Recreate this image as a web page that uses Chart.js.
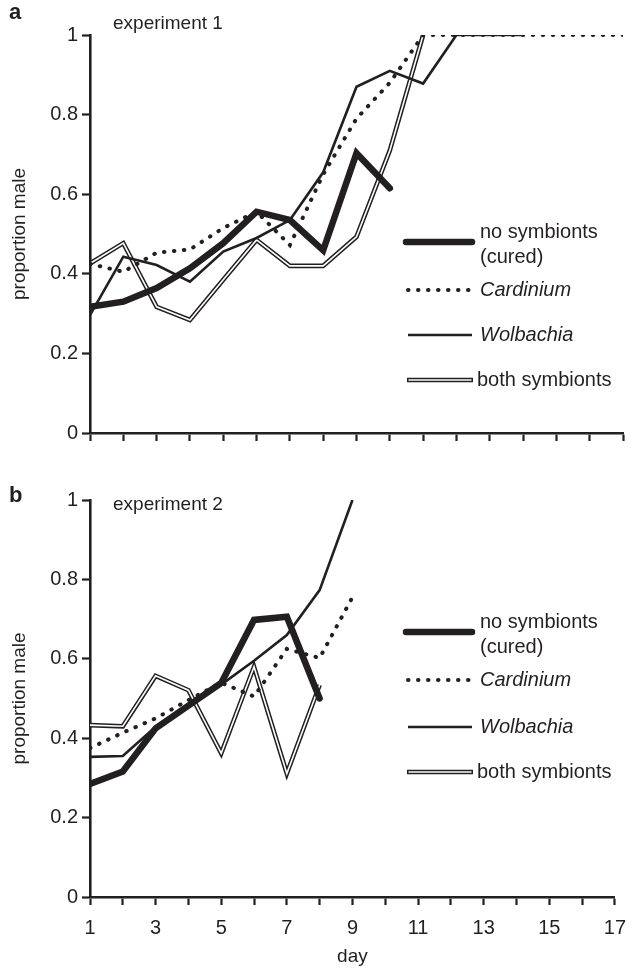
<!DOCTYPE html>
<html><head><meta charset="utf-8">
<script src="https://cdn.jsdelivr.net/npm/chart.js@4.4.0/dist/chart.umd.min.js"></script>
<style>
html,body{margin:0;padding:0;background:#fff;}
#wrap{position:relative;width:637px;height:969px;overflow:hidden;}
.cv{position:absolute;left:0;width:637px;}
</style></head><body>
<div id="wrap">
<div class="cv" style="top:0;height:470px"><canvas id="ca"></canvas></div>
<div class="cv" style="top:470px;height:499px"><canvas id="cb"></canvas></div>
</div>
<script>
// ---- data ----
const days = [1,2,3,4,5,6,7,8,9,10,11,12,13,14,15,16,17];
const xTickLabels = ['1','3','5','7','9','11','13','15','17'];
const yTickValues = [0,0.2,0.4,0.6,0.8,1];
const seriesNames = ['no symbionts', 'Cardinium', 'Wolbachia', 'both symbionts'];

// experiment 1
const exp1Cured     = [0.317,0.330,0.364,0.414,0.477,0.556,0.535,0.459,0.703,0.615];
const exp1Cardinium = [0.425,0.405,0.453,0.461,0.515,0.556,0.472,0.650,0.790,0.880,1,1,1,1,1,1,1];
const exp1Wolbachia = [0.296,0.443,0.422,0.380,0.456,0.490,0.535,0.655,0.870,0.910,0.878,1,1,1];
const exp1Both      = [0.426,0.477,0.317,0.284,0.385,0.485,0.420,0.420,0.493,0.710,1.0];

// experiment 2
const exp2Cured     = [0.285,0.316,0.425,0.482,0.539,0.698,0.706,0.500];
const exp2Cardinium = [0.375,0.414,0.450,0.496,0.540,0.505,0.625,0.602,0.755];
const exp2Wolbachia = [0.353,0.355,0.429,0.483,0.535,0.595,0.660,0.773,1.0];
const exp2Both      = [0.433,0.430,0.557,0.521,0.362,0.580,0.311,0.534];

const INK = '#231f20';
const FONT = '"Liberation Sans", Arial, Helvetica, sans-serif';

function pts(arr){ return arr.map((v,i)=>({x:days[i], y:v})); }

function datasets(cured, card, wol, both){
  return [
    {label:seriesNames[0], data:pts(cured), borderColor:INK, borderWidth:6.5, borderCapStyle:'round', borderJoinStyle:'miter', order:0},
    {label:seriesNames[1], data:pts(card), borderColor:INK, borderWidth:4, borderDash:[0.5,9.5], borderCapStyle:'round', order:1},
    {label:seriesNames[2], data:pts(wol), borderColor:INK, borderWidth:2.6, borderJoinStyle:'miter', order:2},
    {label:seriesNames[3]+'-inner', data:pts(both), borderColor:'#ffffff', borderWidth:1.6, order:3},
    {label:seriesNames[3], data:pts(both), borderColor:INK, borderWidth:4.6, order:4}
  ];
}

const decoPlugin = {
  id:'deco',
  afterDraw(chart, args, o){
    const ctx = chart.ctx;
    ctx.save();
    ctx.fillStyle = INK;
    ctx.textBaseline = 'middle';
    ctx.textAlign = 'left';
    ctx.font = 'bold 22px ' + FONT;
    ctx.fillText(o.panel, o.panelX, o.panelY);
    ctx.font = '19px ' + FONT;
    ctx.fillText(o.exp, o.expX, o.expY);
    const L = o.legend;
    ctx.strokeStyle = INK;
    // cured
    ctx.lineCap = 'round';
    ctx.lineWidth = 6.5;
    ctx.beginPath(); ctx.moveTo(L.x0, L.y[0]); ctx.lineTo(L.x1, L.y[0]); ctx.stroke();
    ctx.font = '20px ' + FONT;
    ctx.fillText('no symbionts', L.tx, L.y[0]-10);
    ctx.fillText('(cured)', L.tx, L.y[0]+15);
    // cardinium
    ctx.lineWidth = 4; ctx.setLineDash([0.5,9.5]);
    ctx.beginPath(); ctx.moveTo(L.x0+2, L.y[1]); ctx.lineTo(L.x1-2, L.y[1]); ctx.stroke();
    ctx.setLineDash([]);
    ctx.font = 'italic 20px ' + FONT;
    ctx.fillText('Cardinium', L.tx, L.y[1]);
    // wolbachia
    ctx.lineWidth = 2.6; ctx.lineCap='butt';
    ctx.beginPath(); ctx.moveTo(L.x0+2, L.y[2]); ctx.lineTo(L.x1, L.y[2]); ctx.stroke();
    ctx.fillText('Wolbachia', L.tx, L.y[2]);
    // both
    ctx.lineWidth = 4.6;
    ctx.beginPath(); ctx.moveTo(L.x0+1, L.y[3]); ctx.lineTo(L.x1+1, L.y[3]); ctx.stroke();
    ctx.strokeStyle = '#fff'; ctx.lineWidth = 1.6;
    ctx.beginPath(); ctx.moveTo(L.x0+2.5, L.y[3]); ctx.lineTo(L.x1-0.5, L.y[3]); ctx.stroke();
    ctx.font = '20px ' + FONT;
    ctx.fillText('both symbionts', L.tx-3, L.y[3]);
    ctx.restore();
  }
};

function makeChart(id, ds, cfg){
  return new Chart(document.getElementById(id), {
    type:'line',
    data:{datasets:ds},
    plugins:[decoPlugin],
    options:{
      responsive:true, maintainAspectRatio:false, animation:false,
      layout:{padding:{top:cfg.padTop, right:14, left:0, bottom:0}},
      elements:{point:{radius:0, hoverRadius:0}, line:{tension:0, fill:false}},
      plugins:{legend:{display:false}, tooltip:{enabled:false},
        deco:cfg.deco},
      scales:{
        x:{type:'linear', min:1, max:17,
          afterFit(s){ s.height = cfg.xHeight; },
          ticks:{stepSize:1, autoSkip:false, maxRotation:0, padding:cfg.xPad,
            color:INK, font:{family:FONT, size:20},
            callback(v){ const t=String(v); return (cfg.xLabels && xTickLabels.includes(t)) ? t : ''; }},
          grid:{display:true, drawOnChartArea:false, drawTicks:true, tickLength:8, tickWidth:2.2, color:INK},
          border:{display:true, width:2.6, color:INK},
          title:{display:cfg.xLabels, text:'day', color:INK, font:{family:FONT, size:19}, padding:{top:0,bottom:1}}
        },
        y:{type:'linear', min:0, max:1,
          afterFit(s){ s.width = 90; },
          afterBuildTicks(s){ s.ticks = yTickValues.map(v=>({value:v})); },
          ticks:{color:INK, padding:4, font:{family:FONT, size:20},
            callback(v){ const r=Math.round(v*10)/10; return (r===0||r===1)? String(r) : r.toFixed(1); }},
          grid:{display:true, drawOnChartArea:false, drawTicks:true, tickLength:8, tickWidth:2.2, color:INK},
          border:{display:true, width:2.6, color:INK},
          title:{display:true, text:'proportion male', color:INK, font:{family:FONT, size:19}, padding:{top:8,bottom:0}}
        }
      }
    }
  });
}

makeChart('ca', datasets(exp1Cured, exp1Cardinium, exp1Wolbachia, exp1Both), {
  padTop:35, xHeight:37, xPad:0, xLabels:false,
  deco:{panel:'a', panelX:9, panelY:13, exp:'experiment 1', expX:113, expY:24,
    legend:{x0:406, x1:472, tx:480, y:[242,290,335,380]}}
});
makeChart('cb', datasets(exp2Cured, exp2Cardinium, exp2Wolbachia, exp2Both), {
  padTop:30, xHeight:72, xPad:11, xLabels:true,
  deco:{panel:'b', panelX:9, panelY:26, exp:'experiment 2', expX:113, expY:35,
    legend:{x0:406, x1:472, tx:480, y:[162,210,257,302]}}
});
</script>
</body></html>
